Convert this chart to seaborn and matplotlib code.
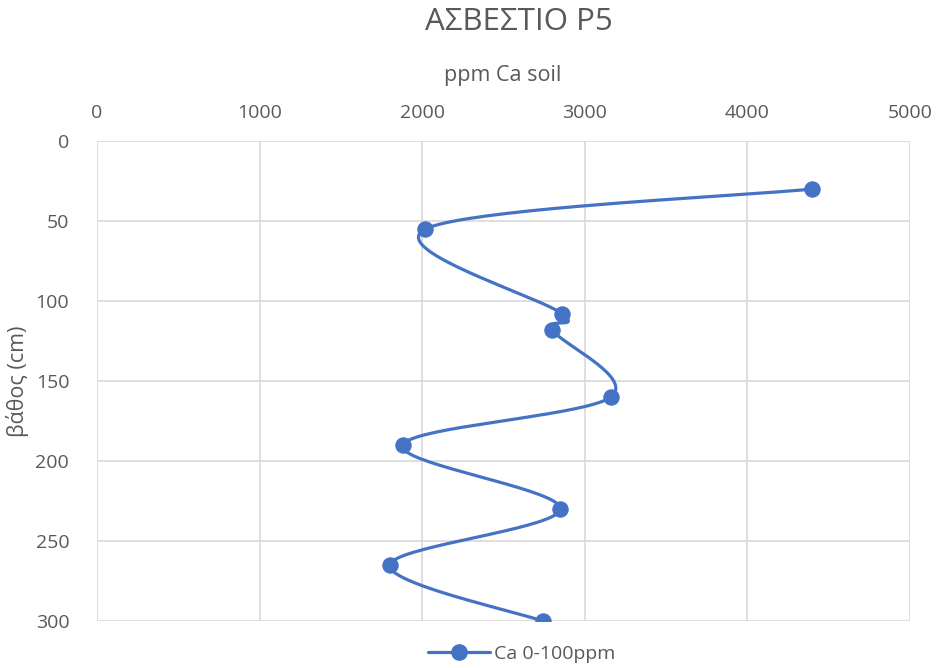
import numpy as np
import pandas as pd
import seaborn as sns
import matplotlib.pyplot as plt
from matplotlib.lines import Line2D

# τιμές από το διάγραμμα
ca_ppm = [4400, 2020, 2860, 2800, 3160, 1880, 2850, 1800, 2740]
depth_cm = [30, 55, 108, 118, 160, 190, 230, 265, 300]
x_ticks = [0, 1000, 2000, 3000, 4000, 5000]
y_ticks = [0, 50, 100, 150, 200, 250, 300]

blue = '#4472C4'
grey_txt = '#595959'

sns.set_theme(style='white')
plt.rcParams['font.family'] = ['Open Sans', 'DejaVu Sans']


# εξομάλυνση τύπου Excel (Bezier / Catmull-Rom) σε κλίμακα οθόνης
def smooth(xs, ys, sx, sy, n=40):
    p = np.column_stack([np.array(xs) * sx, np.array(ys) * sy])
    p = np.vstack([p[0], p, p[-1]])
    out = []
    for i in range(1, len(p) - 2):
        p0, p1, p2, p3 = p[i - 1], p[i], p[i + 1], p[i + 2]
        c1 = p1 + (p2 - p0) / 6
        c2 = p2 - (p3 - p1) / 6
        t = np.linspace(0, 1, n)[:, None]
        seg = ((1 - t) ** 3) * p1 + 3 * ((1 - t) ** 2) * t * c1 + 3 * (1 - t) * t ** 2 * c2 + t ** 3 * p2
        out.append(seg if i == 1 else seg[1:])
    out = np.vstack(out)
    return out[:, 0] / sx, out[:, 1] / sy


sx, sy = 813 / 5000, 480 / 300
cx, cy = smooth(ca_ppm, depth_cm, sx, sy)
curve = pd.DataFrame({'x': cx, 'y': cy})
pts = pd.DataFrame({'x': ca_ppm, 'y': depth_cm})

fig = plt.figure(figsize=(9.39, 6.68), dpi=100)
ax = fig.add_axes([97 / 939, 1 - 621 / 668, 813 / 939, 480 / 668])

sns.lineplot(data=curve, x='x', y='y', sort=False, estimator=None, color=blue, lw=2.3, ax=ax)
sns.scatterplot(data=pts, x='x', y='y', color=blue, s=120, edgecolor=blue, zorder=5, ax=ax)

ax.set_xlim(0, 5000)
ax.set_ylim(300, 0)
ax.set_xticks(x_ticks)
ax.set_yticks(y_ticks)
ax.xaxis.tick_top()
ax.xaxis.set_label_position('top')
ax.grid(True, color='#D9D9D9', lw=1.2)
for s in ax.spines.values():
    s.set_visible(False)
ax.tick_params(axis='both', length=0, labelsize=14, labelcolor=grey_txt)
ax.tick_params(axis='y', pad=20)
ax.tick_params(axis='x', pad=14)
ax.set_xlabel('')
ax.set_ylabel('')

fig.text(503 / 939, 1 - 75 / 668, 'ppm Ca soil', ha='center', va='center', fontsize=15.5, color=grey_txt)
fig.text(18 / 939, 1 - 381 / 668, 'βάθος (cm)', ha='center', va='center', rotation=90, fontsize=15.5, color=grey_txt)
fig.text(519 / 939, 1 - 22 / 668, 'ΑΣΒΕΣΤΙΟ P5', ha='center', va='center', fontsize=22.5, color=grey_txt)

handle = Line2D([], [], color=blue, lw=2.3, marker='o', markersize=11)
fig.legend(handles=[handle], labels=['Ca 0-100ppm'], loc='center', bbox_to_anchor=(522 / 939, 1 - 654 / 668),
           frameon=False, fontsize=14, labelcolor=grey_txt, handlelength=3.2, handletextpad=0.2)

fig.savefig('out.png', dpi=100)
